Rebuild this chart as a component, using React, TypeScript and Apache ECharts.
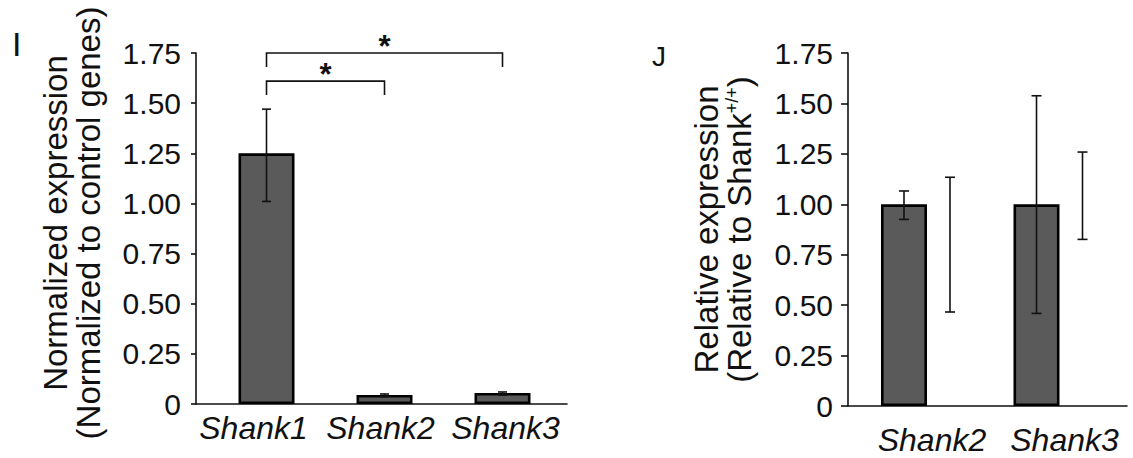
import React, { useEffect, useRef } from "react";
import * as echarts from "echarts";

// ---------- data ----------
const leftCategories = ["Shank1", "Shank2", "Shank3"];
const leftMeans = [1.25, 0.045, 0.055];
const leftErrLow = [1.01, 0.037, 0.045];
const leftErrHigh = [1.47, 0.05, 0.06];

const rightCategories = ["Shank2", "Shank3"];
const wtMeans = [1.0, 1.0];
const wtErrLow = [0.925, 0.459];
const wtErrHigh = [1.066, 1.538];
const mutMeans = [0.8, 1.04];
const mutErrLow = [0.466, 0.826];
const mutErrHigh = [1.134, 1.259];

const yTickInterval = 0.25;
const yMax = 1.75;

// significance brackets (left panel): from category, to category, line level, leg bottom
const brackets = [
  { from: "Shank1", to: "Shank3", y: 1.75, legBottom: 1.68, label: "*" },
  { from: "Shank1", to: "Shank2", y: 1.61, legBottom: 1.54, label: "*" },
];

const FONT = "'Liberation Sans', Arial, Helvetica, sans-serif";
const BAR_FILL = "#5a5a5a";
const INK = "#111111";

function errorBarSeries(
  name: string,
  xAxisIndex: number,
  yAxisIndex: number,
  lows: number[],
  highs: number[],
  pxOffset: number,
  cap: number
) {
  return {
    name,
    type: "custom",
    xAxisIndex,
    yAxisIndex,
    z: 5,
    encode: { x: 0, y: [1, 2] },
    data: lows.map((lo, i) => [i + 1, lo, highs[i]]),
    renderItem: (_params: any, api: any) => {
      const x = api.value(0);
      const pLo = api.coord([x, api.value(1)]);
      const pHi = api.coord([x, api.value(2)]);
      const cx = pLo[0] + pxOffset;
      const style = { stroke: INK, lineWidth: 1.6 };
      return {
        type: "group",
        children: [
          { type: "line", shape: { x1: cx, y1: pLo[1], x2: cx, y2: pHi[1] }, style },
          { type: "line", shape: { x1: cx - cap, y1: pHi[1], x2: cx + cap, y2: pHi[1] }, style },
          { type: "line", shape: { x1: cx - cap, y1: pLo[1], x2: cx + cap, y2: pLo[1] }, style },
        ],
      };
    },
  };
}

export default function App() {
  const ref = useRef<HTMLDivElement>(null);

  useEffect(() => {
    if (!ref.current) return;
    const chart = echarts.init(ref.current, undefined, { renderer: "svg" });

    const yAxisCommon = (
      gridIndex: number,
      tickLen: number,
      nameStr: string,
      rich: any,
      padding: number[],
      nameGap: number
    ) => ({
      type: "value",
      gridIndex,
      min: 0,
      max: yMax,
      interval: yTickInterval,
      splitLine: { show: false },
      axisLine: { show: true, lineStyle: { color: INK, width: 1.6 } },
      axisTick: { show: true, length: tickLen, lineStyle: { color: INK, width: 1.6 } },
      axisLabel: {
        color: INK,
        fontSize: 30,
        fontFamily: FONT,
        margin: 15,
        formatter: (v: number) => (v === 0 ? "0" : v.toFixed(2)),
      },
      name: nameStr,
      nameLocation: "middle",
      nameRotate: 90,
      nameGap,
      nameTextStyle: {
        color: INK,
        fontSize: 33,
        lineHeight: 33,
        fontFamily: FONT,
        padding,
        rich,
      },
    });

    const labelRich = (pads: number[][]) => {
      const r: any = {};
      pads.forEach((p, i) => {
        r["c" + i] = {
          fontSize: 32,
          fontStyle: "italic",
          fontFamily: FONT,
          color: INK,
          padding: p,
        };
      });
      return r;
    };

    const xAxisCommon = (
      gridIndex: number,
      min: number,
      max: number,
      cats: string[],
      margin: number,
      pads: number[][]
    ) => ({
      type: "value",
      gridIndex,
      min,
      max,
      splitLine: { show: false },
      axisLine: { show: true, onZero: false, lineStyle: { color: INK, width: 1.6 } },
      axisTick: { show: false },
      axisLabel: {
        customValues: cats.map((_c, i) => i + 1),
        formatter: (v: number) => {
          const i = Math.round(v) - 1;
          return cats[i] ? `{c${i}|${cats[i]}}` : "";
        },
        color: INK,
        fontSize: 32,
        fontStyle: "italic",
        fontFamily: FONT,
        margin,
        showMinLabel: true,
        showMaxLabel: true,
        hideOverlap: false,
        rich: labelRich(pads),
      },
    });

    const catIndex = (c: string) => leftCategories.indexOf(c) + 1;

    const option: any = {
      animation: false,
      backgroundColor: "#ffffff",
      textStyle: { fontFamily: FONT },
      grid: [
        { left: 196, top: 53, width: 371, height: 351 },
        { left: 848, top: 53, width: 279, height: 353 },
      ],
      xAxis: [
        xAxisCommon(0, 0.4025, 3.5466, leftCategories, 8, [
          [0, 26, 0, 0],
          [0, 8, 0, 0],
          [0, 0, 0, 6],
        ]),
        xAxisCommon(1, 0.4038, 2.5094, rightCategories, 18, [
          [0, 0, 0, 10],
          [0, 0, 0, 10],
        ]),
      ],
      yAxis: [
        yAxisCommon(0, 5, "Normalized expression\n(Normalized to control genes)", {}, [0, 0, 0, 11], 91),
        yAxisCommon(
          1,
          7,
          "{a|Relative expression}\n{a|(Relative to Shank}{sup|+/+}{a|)}",
          {
            a: { fontSize: 33, lineHeight: 33, fontFamily: FONT, color: INK },
            sup: { fontSize: 18, lineHeight: 18, verticalAlign: "top", fontFamily: FONT, color: INK },
          },
          [0, 0, 0, 0],
          92
        ),
      ],
      graphic: [
        { type: "text", left: 12, top: 27, style: { text: "I", fontSize: 34, fontFamily: FONT, fill: INK } },
        { type: "text", left: 652, top: 42, style: { text: "J", fontSize: 28, fontFamily: FONT, fill: INK } },
      ],
      series: [
        {
          name: "Normalized expression",
          type: "bar",
          xAxisIndex: 0,
          yAxisIndex: 0,
          barWidth: 56,
          data: leftMeans.map((v, i) => [i + 1, v]),
          itemStyle: { color: BAR_FILL, borderColor: "#000", borderWidth: 2.6 },
        },
        errorBarSeries("Normalized expression error", 0, 0, leftErrLow, leftErrHigh, 0, 4.5),
        {
          name: "Shank+/+",
          type: "bar",
          xAxisIndex: 1,
          yAxisIndex: 1,
          barWidth: 46,
          barGap: "0%",
          data: wtMeans.map((v, i) => [i + 1, v]),
          itemStyle: { color: BAR_FILL, borderColor: "#000", borderWidth: 2.6 },
        },
        {
          name: "Shank-/-",
          type: "bar",
          xAxisIndex: 1,
          yAxisIndex: 1,
          barWidth: 46,
          barGap: "0%",
          data: mutMeans.map((v, i) => [i + 1, v]),
          itemStyle: { color: "rgba(255,255,255,0)", borderWidth: 0 },
        },
        errorBarSeries("Shank+/+ error", 1, 1, wtErrLow, wtErrHigh, -23, 5),
        errorBarSeries("Shank-/- error", 1, 1, mutErrLow, mutErrHigh, 23, 5),
        {
          name: "Significance",
          type: "custom",
          xAxisIndex: 0,
          yAxisIndex: 0,
          z: 6,
          encode: { x: [0, 1], y: [2, 3] },
          data: brackets.map((b) => [catIndex(b.from), catIndex(b.to), b.y, b.legBottom]),
          renderItem: (params: any, api: any) => {
            const x1 = api.value(0);
            const x2 = api.value(1);
            const pA = api.coord([x1, api.value(2)]);
            const pB = api.coord([x2, api.value(2)]);
            const legA = api.coord([x1, api.value(3)]);
            const legB = api.coord([x2, api.value(3)]);
            const label = brackets[params.dataIndex].label;
            return {
              type: "group",
              children: [
                {
                  type: "polyline",
                  shape: { points: [[legA[0], legA[1]], [pA[0], pA[1]], [pB[0], pB[1]], [legB[0], legB[1]]] },
                  style: { stroke: INK, lineWidth: 1.6, fill: "none" },
                },
                {
                  type: "text",
                  style: {
                    text: label,
                    x: (pA[0] + pB[0]) / 2,
                    y: pA[1] + 9,
                    align: "center",
                    verticalAlign: "bottom",
                    fontSize: 31,
                    fontWeight: "bold",
                    fontFamily: FONT,
                    fill: INK,
                  },
                },
              ],
            };
          },
        },
      ],
    };

    chart.setOption(option);
    return () => chart.dispose();
  }, []);

  return (
    <div
      ref={ref}
      style={{ position: "fixed", left: 0, top: 0, width: 1133, height: 458, background: "#fff" }}
    />
  );
}
